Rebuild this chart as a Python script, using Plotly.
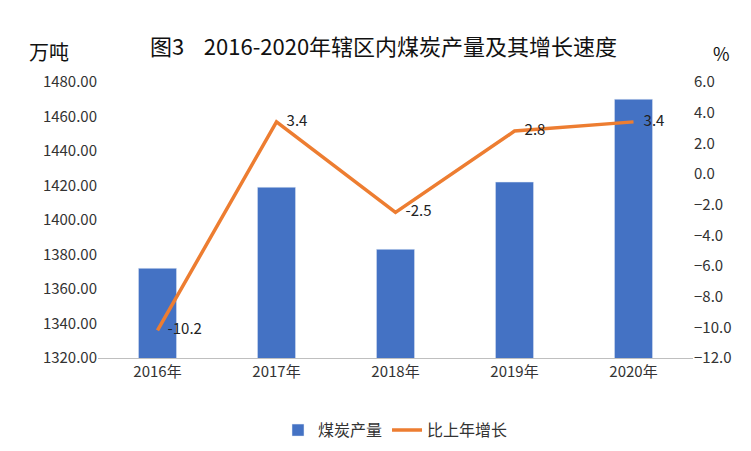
import plotly.graph_objects as go

years = ["2016年", "2017年", "2018年", "2019年", "2020年"]
output = [1372.0, 1419.0, 1383.0, 1422.0, 1470.0]
growth = [-10.2, 3.4, -2.5, 2.8, 3.4]
growth_labels = ["   -10.2", "   3.4", "   -2.5", "   2.8", "   3.4"]

font = "Noto Sans CJK SC, Liberation Sans, sans-serif"

fig = go.Figure()
fig.add_trace(go.Bar(x=years, y=output, name="煤炭产量", marker_color="#4472C4", width=0.32))
fig.add_trace(go.Scatter(
    x=years, y=growth, name="比上年增长", yaxis="y2", mode="lines+text",
    line=dict(color="#ED7D31", width=3.5),
    text=growth_labels, textposition="middle right",
    textfont=dict(size=15, color="#222"),
))

fig.update_layout(
    width=751, height=451,
    margin=dict(l=90, r=66, t=74, b=99),
    paper_bgcolor="white", plot_bgcolor="white",
    font=dict(family=font, size=14, color="#333"),
    title=dict(text="图3    2016-2020年辖区内煤炭产量及其增长速度", x=0.5, xanchor="center",
               y=0.93, font=dict(size=22, color="#111")),
    xaxis=dict(showline=True, linecolor="#bfbfbf", tickfont=dict(size=15),
               ticks=""),
    yaxis=dict(range=[1320, 1480], dtick=20, tickformat=".2f", showgrid=False,
               tickfont=dict(size=15), zeroline=False),
    yaxis2=dict(range=[-12, 6], dtick=2, tickformat=".1f", overlaying="y", side="right",
                showgrid=False, zeroline=False, tickfont=dict(size=15)),
    legend=dict(orientation="h", x=0.5, xanchor="center", y=-0.2, yanchor="top",
                font=dict(size=16)),
    annotations=[
        dict(text="万吨", xref="paper", yref="paper", x=-0.12, y=1.17, showarrow=False,
             font=dict(size=20, color="#111"), xanchor="left"),
        dict(text="%", xref="paper", yref="paper", x=1.03, y=1.16, showarrow=False,
             font=dict(size=18, color="#111"), xanchor="left"),
    ],
)

fig.write_html("out.html")
